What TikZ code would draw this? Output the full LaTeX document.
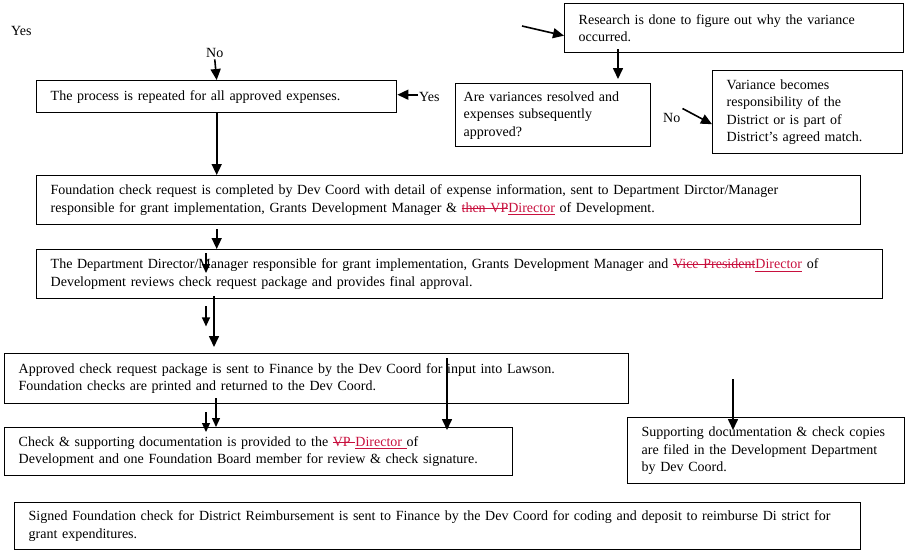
\documentclass[tikz,border=0pt]{standalone}
\usepackage{fontspec}
\setmainfont{Liberation Serif}
\usetikzlibrary{arrows.meta, calc}
\definecolor{trackred}{HTML}{C8103E}
\newcommand{\boxfont}{\fontsize{14}{17.5}\selectfont}
\newsavebox\trkbox
\newcommand{\strk}[1]{\sbox\trkbox{#1}\rlap{\usebox\trkbox}\rule[0.28em]{\wd\trkbox}{0.6pt}}
\newcommand{\undl}[1]{\sbox\trkbox{#1}\rlap{\usebox\trkbox}\rule[-0.16em]{\wd\trkbox}{0.6pt}}

\begin{document}
\begin{tikzpicture}[
  x=1pt, y=-1pt,
  >={Triangle[length=11pt, width=10pt]},
  box/.style 2 args={draw, line width=1.4pt, anchor=north west, align=left,
    text width=#1, minimum height=#2, inner xsep=14pt, inner ysep=2pt,
    font=\boxfont},
  arr/.style={->, line width=1.6pt, black},
  tick/.style={-{Triangle[length=9pt, width=8pt]}, line width=1.2pt},
  lbl/.style={font=\boxfont, inner sep=0pt, anchor=base west},
]
\useasboundingbox (0,0) rectangle (905,550);

% === Top: loop back and variance handling ===

\node[lbl] (yesTL) at (11,35) {Yes};
\node[lbl] (no) at (206,57) {No};
\node[box={332pt}{32pt}] (rep) at (36,80) {The process is repeated for all approved expenses.};
\node[lbl] (yesR) at (419,101) {Yes};

\node[box={311pt}{49pt}] (research) at (564,3)
  {Research is done to figure out why the variance\\occurred.};
\node[box={179pt}{63pt}, inner xsep=8pt] (q) at (455,83)
  {Are variances resolved and\\expenses subsequently\\approved?};
\node[lbl] (noR) at (663,122) {No};
\node[box={162pt}{83pt}] (var) at (712,70)
  {Variance becomes\\responsibility of the\\District or is part of\\District’s agreed match.};
\coordinate (rsFrom) at (522,26);

\draw[arr] ($(no.south)+(0,2)$) -- (rep.north);
\draw[arr] ($(yesR.west |- rep.east)+(-1,-2)$) -- ($(rep.east)+(0,-2)$);
\draw[arr] (rsFrom) -- ($(research.west)+(0,7.5)$);
\draw[arr] ($(research.south west)+(54,-4)$) -- ($(q.north west)+(163,-4)$);
\draw[arr] ($(noR.east)+(2,-9)$) -- ($(var.west)+(0,12)$);

% === Middle: check request and approval ===

\node[box={796pt}{49pt}] (found) at (36,175)
  {Foundation check request is completed by Dev Coord with detail of expense information, sent to Department Dirctor/Manager\\
   responsible for grant implementation, Grants Development Manager \& \textcolor{trackred}{\strk{then VP}\undl{Director}} of Development.};
\node[box={818pt}{49pt}] (dept) at (36,249)
  {The Department Director/Manager responsible for grant implementation, Grants Development Manager and \textcolor{trackred}{\strk{Vice President}\undl{Director}} of\\
   Development reviews check request package and provides final approval.};

\draw[arr] (rep.south) -- (rep.south |- found.north);
\draw[arr] ($(found.south -| rep.south)+(0,4)$) -- (dept.north -| rep.south);
\draw[tick] ($(dept.north west)+(170,4)$) -- ++(0,20);

% === Bottom: finance, signature and filing ===

\node[box={596pt}{50pt}] (appr) at (4,353)
  {Approved check request package is sent to Finance by the Dev Coord for input into Lawson.\\
   Foundation checks are printed and returned to the Dev Coord.};
\node[box={480pt}{48pt}] (check) at (4,427)
  {Check \& supporting documentation is provided to the \textcolor{trackred}{\strk{VP }\undl{Director }}of\\
   Development and one Foundation Board member for review \& check signature.};
\node[box={249pt}{66pt}] (supp) at (627,417)
  {Supporting documentation \& check copies\\are filed in the Development Department\\by Dev Coord.};
\node[box={818pt}{47pt}] (signed) at (14,502)
  {Signed Foundation check for District Reimbursement is sent to Finance by the Dev Coord for coding and deposit to reimburse Di strict for\\
   grant expenditures.};

\draw[arr] ($(dept.south west)+(178,-3)$) -- ($(appr.north west)+(210,-6)$);
\draw[tick] ($(dept.south west)+(170,7)$) -- ++(0,20);
\draw[arr] ($(appr.north west)+(443,5)$) -- ($(check.north west)+(443,3)$);
\draw[tick] ($(appr.south west)+(202,8)$) -- ($(check.north west)+(202,5)$);
\draw[tick] ($(appr.south west)+(212,-6)$) -- ($(check.north west)+(212,0)$);
\draw[arr] ($(supp.north west)+(106,-38)$) -- ($(supp.north west)+(106,13)$);

\end{tikzpicture}
\end{document}
